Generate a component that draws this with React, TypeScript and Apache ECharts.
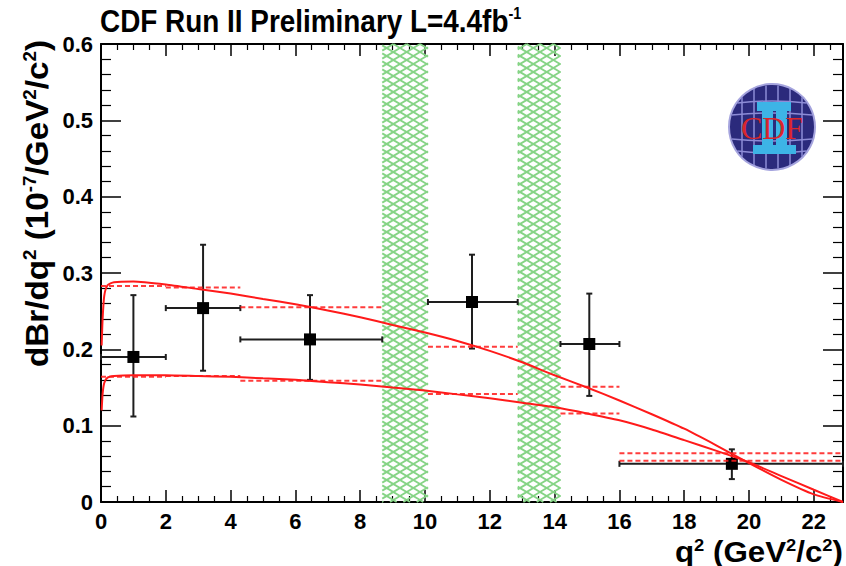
import React, { useEffect, useRef } from "react";
import * as echarts from "echarts";

// Axis ranges
const Q2_MAX = 22.9;
const Y_MAX = 0.6;

// Measured differential branching fraction, per q2 bin
const binLow = [0, 2, 4.3, 10.09, 14.18, 16];
const binHigh = [2, 4.3, 8.68, 12.86, 16, 22.9];
const binMean = [1.0, 3.15, 6.45, 11.45, 15.07, 19.47];
const dBrValue = [0.19, 0.254, 0.213, 0.262, 0.207, 0.05];
const errUp = [0.081, 0.083, 0.058, 0.062, 0.066, 0.019];
const errDown = [0.078, 0.082, 0.053, 0.061, 0.068, 0.02];

// Binned SM prediction band (upper / lower edge)
const predUpper = [0.283, 0.281, 0.255, 0.2035, 0.151, 0.064];
const predLower = [0.164, 0.165, 0.159, 0.1415, 0.116, 0.054];

// Charmonium veto regions (J/psi, psi(2S))
const vetoLow = [8.68, 12.86];
const vetoHigh = [10.09, 14.18];

// Continuous SM prediction curves
const curveQ2 = [0.02, 0.05, 0.1, 0.2, 0.4, 1, 2, 3, 4, 5, 6, 7, 8, 9, 10, 11, 12, 13, 14, 15, 16, 17, 18, 19, 20, 21, 22, 22.9];
const curveUpper = [0.205, 0.24, 0.27, 0.284, 0.288, 0.289, 0.285, 0.279, 0.273, 0.266, 0.259, 0.251, 0.242, 0.232, 0.222, 0.211, 0.198, 0.183, 0.166, 0.15, 0.133, 0.115, 0.096, 0.074, 0.051, 0.029, 0.01, 0];
const curveLower = [0.12, 0.142, 0.156, 0.163, 0.165, 0.166, 0.166, 0.165, 0.164, 0.162, 0.16, 0.157, 0.154, 0.15, 0.146, 0.141, 0.136, 0.13, 0.124, 0.116, 0.107, 0.095, 0.081, 0.067, 0.052, 0.034, 0.016, 0];

const FONT = "Liberation Sans";
const RED = "#ff1a1a";
const HATCH = "#86d486";
const BAR = "#1e1e1e";

function hatchLines(x1: number, x2: number, yt: number, yb: number, slope: number, step: number, style: any) {
  const out: any[] = [];
  const bs = [yt - slope * x1, yt - slope * x2, yb - slope * x1, yb - slope * x2];
  const bMin = Math.min(...bs);
  const bMax = Math.max(...bs);
  for (let b = Math.floor(bMin / step) * step; b <= bMax; b += step) {
    const xa = (yt - b) / slope;
    const xb = (yb - b) / slope;
    const lo = Math.max(x1, Math.min(xa, xb));
    const hi = Math.min(x2, Math.max(xa, xb));
    if (hi > lo) {
      out.push({
        type: "line",
        shape: { x1: lo, y1: slope * lo + b, x2: hi, y2: slope * hi + b },
        style,
      });
    }
  }
  return out;
}

function buildLogo() {
  const cx = 772;
  const cy = 127;
  const r = 43;
  const grid = { stroke: "#8d8cd6", lineWidth: 1.5 };
  const children: any[] = [
    { type: "circle", shape: { cx, cy, r }, style: { fill: "#2b2a7c", stroke: "#a5a4de", lineWidth: 2 } },
  ];
  [-30, -18, -6, 6, 18, 30].forEach((dx) => {
    const h = Math.sqrt(r * r - dx * dx) - 1;
    children.push({ type: "line", shape: { x1: cx + dx, y1: cy - h, x2: cx + dx, y2: cy + h }, style: grid });
  });
  [-24, -12, 12, 24].forEach((dy) => {
    const w = Math.sqrt(r * r - dy * dy) - 1;
    const bow = dy < 0 ? -4 : 4;
    children.push({
      type: "bezierCurve",
      shape: { x1: cx - w, y1: cy + dy, x2: cx + w, y2: cy + dy, cpx1: cx, cpy1: cy + dy + bow },
      style: { ...grid, fill: "none" },
    });
  });
  const cyan = { fill: "#3db4e6" };
  children.push({ type: "rect", shape: { x: 757, y: 102, width: 34, height: 9 }, style: cyan });
  children.push({ type: "rect", shape: { x: 762, y: 110, width: 11, height: 36 }, style: cyan });
  children.push({ type: "rect", shape: { x: 776, y: 110, width: 11, height: 36 }, style: cyan });
  children.push({ type: "rect", shape: { x: 753, y: 145, width: 43, height: 9 }, style: cyan });
  children.push({
    type: "text",
    x: cx,
    y: cy + 1,
    style: {
      text: "CDF",
      fontFamily: "Liberation Serif",
      fontSize: 32,
      fill: "#d9262c",
      align: "center",
      verticalAlign: "middle",
    },
  });
  return { type: "group", z: 20, children };
}

export default function App() {
  const ref = useRef<HTMLDivElement>(null);

  useEffect(() => {
    if (!ref.current) return;
    const chart = echarts.init(ref.current, undefined, { renderer: "svg" });

    const measured = binMean.map((m, i) => [m, dBrValue[i], binLow[i], binHigh[i], errDown[i], errUp[i]]);
    const predRows: number[][] = [];
    binLow.forEach((lo, i) => {
      predRows.push([lo, binHigh[i], predUpper[i]]);
      predRows.push([lo, binHigh[i], predLower[i]]);
    });
    const vetoRows = vetoLow.map((lo, i) => [lo, vetoHigh[i]]);

    const axisLabel = { fontFamily: FONT, fontWeight: "bold", fontSize: 22, color: "#000" };

    const xAxisBase = {
      type: "value",
      min: 0,
      max: Q2_MAX,
      interval: 2,
      axisLine: { show: true, onZero: false, lineStyle: { color: "#000", width: 2 } },
      axisTick: { show: true, inside: true, length: 12, lineStyle: { color: "#000", width: 1.5 } },
      minorTick: { show: true, splitNumber: 4, length: 6, lineStyle: { color: "#000", width: 1.2 } },
      splitLine: { show: false },
    };
    const yAxisBase = {
      type: "value",
      min: 0,
      max: Y_MAX,
      interval: 0.1,
      axisLine: { show: true, onZero: false, lineStyle: { color: "#000", width: 2 } },
      axisTick: { show: true, inside: true, length: 20, lineStyle: { color: "#000", width: 1.5 } },
      minorTick: { show: true, splitNumber: 5, length: 10, lineStyle: { color: "#000", width: 1.2 } },
      splitLine: { show: false },
    };

    chart.setOption({
      animation: false,
      backgroundColor: "#fff",
      grid: { left: 101, right: 3, top: 44, bottom: 64, containLabel: false },
      xAxis: [
        {
          ...xAxisBase,
          position: "bottom",
          axisLabel: {
            ...axisLabel,
            margin: 8,
            formatter: (v: number) => (Math.abs(v % 2) < 1e-9 ? String(v) : ""),
          },
        },
        { ...xAxisBase, position: "top", axisLabel: { show: false } },
      ],
      yAxis: [
        {
          ...yAxisBase,
          position: "left",
          axisLabel: {
            ...axisLabel,
            margin: 8,
            formatter: (v: number) => (v === 0 ? "0" : v.toFixed(1)),
          },
        },
        { ...yAxisBase, position: "right", axisLabel: { show: false } },
      ],
      series: [
        {
          type: "custom",
          name: "veto",
          silent: true,
          z: 1,
          data: vetoRows,
          encode: { x: [0, 1] },
          renderItem: (params: any, api: any) => {
            const a = api.coord([api.value(0), Y_MAX]);
            const b = api.coord([api.value(1), 0]);
            const style = { stroke: HATCH, lineWidth: 1.9 };
            const children = [
              ...hatchLines(a[0], b[0], a[1], b[1], 0.6, 8, style),
              ...hatchLines(a[0], b[0], a[1], b[1], -0.6, 8, style),
            ];
            return { type: "group", children };
          },
        },
        {
          type: "custom",
          name: "data",
          silent: true,
          z: 3,
          data: measured,
          encode: { x: 0, y: 1 },
          renderItem: (params: any, api: any) => {
            const m = api.value(0);
            const v = api.value(1);
            const c = api.coord([m, v]);
            const l = api.coord([api.value(2), v]);
            const r = api.coord([api.value(3), v]);
            const lo = api.coord([m, v - api.value(4)]);
            const hi = api.coord([m, v + api.value(5)]);
            const st = { stroke: BAR, lineWidth: 2 };
            const cap = 3;
            return {
              type: "group",
              children: [
                { type: "line", shape: { x1: l[0], y1: l[1], x2: r[0], y2: r[1] }, style: st },
                { type: "line", shape: { x1: lo[0], y1: lo[1], x2: hi[0], y2: hi[1] }, style: st },
                { type: "line", shape: { x1: l[0], y1: l[1] - cap, x2: l[0], y2: l[1] + cap }, style: st },
                { type: "line", shape: { x1: r[0], y1: r[1] - cap, x2: r[0], y2: r[1] + cap }, style: st },
                { type: "line", shape: { x1: lo[0] - cap, y1: lo[1], x2: lo[0] + cap, y2: lo[1] }, style: st },
                { type: "line", shape: { x1: hi[0] - cap, y1: hi[1], x2: hi[0] + cap, y2: hi[1] }, style: st },
                { type: "rect", shape: { x: c[0] - 6, y: c[1] - 6, width: 12, height: 12 }, style: { fill: "#000" } },
              ],
            };
          },
        },
        {
          type: "custom",
          name: "binned prediction",
          silent: true,
          z: 4,
          data: predRows,
          encode: { x: [0, 1], y: 2 },
          renderItem: (params: any, api: any) => {
            const a = api.coord([api.value(0), api.value(2)]);
            const b = api.coord([api.value(1), api.value(2)]);
            return {
              type: "line",
              shape: { x1: a[0], y1: a[1], x2: b[0], y2: b[1] },
              style: { stroke: RED, lineWidth: 2, lineDash: [5, 3], opacity: 0.85 },
            };
          },
        },
        {
          type: "line",
          name: "upper",
          z: 5,
          data: curveQ2.map((q, i) => [q, curveUpper[i]]),
          showSymbol: false,
          smooth: 0.2,
          silent: true,
          lineStyle: { color: RED, width: 2 },
        },
        {
          type: "line",
          name: "lower",
          z: 5,
          data: curveQ2.map((q, i) => [q, curveLower[i]]),
          showSymbol: false,
          smooth: 0.2,
          silent: true,
          lineStyle: { color: RED, width: 2 },
        },
      ],
      graphic: [
        {
          type: "text",
          x: 100,
          y: 5,
          scaleX: 0.9,
          style: {
            text: "{m|CDF Run II Preliminary L=4.4fb}{s|-1}",
            rich: {
              m: { fontFamily: FONT, fontWeight: "bold", fontSize: 31, fill: "#000" },
              s: { fontFamily: FONT, fontWeight: "bold", fontSize: 16, fill: "#000", verticalAlign: "top" },
            },
          },
        },
        {
          type: "text",
          x: 53,
          y: 40,
          rotation: Math.PI / 2,
          scaleX: 1.04,
          style: {
            text: "{m|dBr/dq}{s|2}{m| (10}{s|-7}{m|/GeV}{s|2}{m|/c}{s|2}{m|)}",
            align: "right",
            verticalAlign: "bottom",
            rich: {
              m: { fontFamily: FONT, fontWeight: "bold", fontSize: 32, fill: "#000" },
              s: { fontFamily: FONT, fontWeight: "bold", fontSize: 18, fill: "#000", verticalAlign: "top" },
            },
          },
        },
        {
          type: "text",
          x: 843,
          y: 566,
          scaleX: 1.08,
          style: {
            text: "{m|q}{s|2}{m| (GeV}{s|2}{m|/c}{s|2}{m|)}",
            align: "right",
            verticalAlign: "bottom",
            rich: {
              m: { fontFamily: FONT, fontWeight: "bold", fontSize: 29, fill: "#000" },
              s: { fontFamily: FONT, fontWeight: "bold", fontSize: 17, fill: "#000", verticalAlign: "top" },
            },
          },
        },
        buildLogo(),
      ],
    });

    return () => chart.dispose();
  }, []);

  return <div ref={ref} style={{ position: "fixed", left: 0, top: 0, width: 846, height: 566 }} />;
}
